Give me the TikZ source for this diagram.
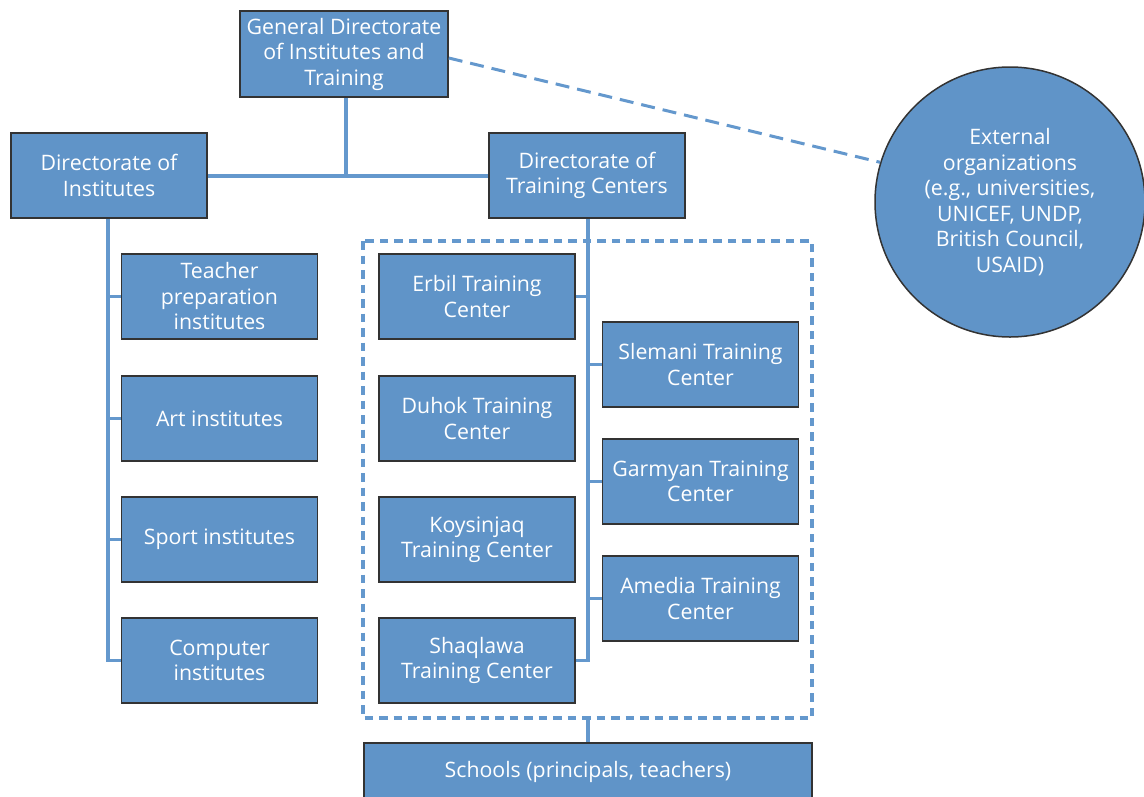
\documentclass[tikz,border=0pt]{standalone}
\usepackage{fontspec}
\setmainfont{Open Sans}
\definecolor{boxfill}{RGB}{96,148,200}
\definecolor{linkblue}{RGB}{100,152,205}
\begin{document}
\begin{tikzpicture}[x=1pt,y=-1pt,
  orgbox/.style={draw=black!80,line width=1.5pt,fill=boxfill,text=white,
    minimum width=#1,align=center,inner sep=0pt,
    font=\fontsize{21.3}{25.5}\selectfont},
  orgbox/.default=196pt,
  link/.style={draw=linkblue,line width=3.2pt},
  dashlink/.style={draw=linkblue,line width=3pt,dash pattern=on 14pt off 8pt},
  framebox/.style={draw=linkblue,line width=3.3pt,dash pattern=on 8.5pt off 6pt}]
\useasboundingbox (0,0) rectangle (1144,796);

% dashed frame round the training centers
\draw[framebox] (363,241) rectangle (812,718);
\coordinate (fb) at (588,718);
\coordinate (dtb) at (588,218);
\coordinate (dib) at (108,218);

% connectors (drawn first so the boxes cover their ends)
\coordinate (gdb) at (346,97);
\coordinate (joint) at (346,176);
\draw[link] (gdb) -- (joint);
\draw[link] (207,176) -- (489,176);
\draw[link] (dib) -- (108,660.5);
\foreach \y in {296.5,418.5,539.5,660.5} \draw[link] (106.4,\y) -- (122,\y);
\draw[link] (dtb) -- (588,660.5);
\draw[link] (575,296.5) -- (589.6,296.5);
\draw[link] (575,660.5) -- (589.6,660.5);
\foreach \y in {364.5,481.5,598.5} \draw[link] (586.4,\y) -- (603,\y);
\draw[link] (fb) -- (588,743);

% top level
\node[orgbox=208pt,minimum height=86pt] (gd) at (344,54)
  {General Directorate\\of Institutes and\\Training};
\node[orgbox,minimum height=85pt] (di) at (109,175.5) {Directorate of\\Institutes};
\node[orgbox,minimum height=85pt] (dt) at (587,175.5) {Directorate of\\Training Centers};
\node[circle,draw=black!80,line width=1.5pt,fill=boxfill,text=white,
  minimum size=270pt,inner sep=0pt,align=center,
  font=\fontsize{21.3}{25.5}\selectfont] (ext) at (1010,202)
  {External\\organizations\\(e.g., universities,\\UNICEF, UNDP,\\British Council,\\USAID)};
\draw[dashlink] (gd.east |- 0,58) -- (ext.163);

% institutes
\node[orgbox,minimum height=85pt] (tp) at (219.5,296.5) {Teacher\\preparation\\institutes};
\node[orgbox,minimum height=85pt] (ai) at (219.5,418.5) {Art institutes};
\node[orgbox,minimum height=85pt] (si) at (219.5,539.5) {Sport institutes};
\node[orgbox,minimum height=85pt] (ci) at (219.5,660.5) {Computer\\institutes};

% training centers
\node[orgbox,minimum height=85pt] (er) at (477,296.5) {Erbil Training\\Center};
\node[orgbox,minimum height=85pt] (du) at (477,418.5) {Duhok Training\\Center};
\node[orgbox,minimum height=85pt] (ko) at (477,539.5) {Koysinjaq\\Training Center};
\node[orgbox,minimum height=85pt] (sh) at (477,660.5) {Shaqlawa\\Training Center};
\node[orgbox,minimum height=85pt] (sl) at (700.5,364.5) {Slemani Training\\Center};
\node[orgbox,minimum height=85pt] (ga) at (700.5,481.5) {Garmyan Training\\Center};
\node[orgbox,minimum height=85pt] (am) at (700.5,598.5) {Amedia Training\\Center};

% schools
\node[orgbox=448pt,minimum height=58pt] (sc) at (588,772) {Schools (principals, teachers)};
\end{tikzpicture}
\end{document}
